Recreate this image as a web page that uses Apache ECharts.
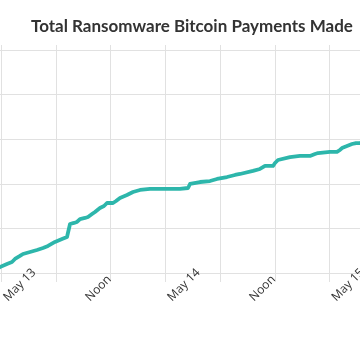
<!DOCTYPE html>
<html>
<head>
<meta charset="utf-8">
<script src="https://cdn.jsdelivr.net/npm/echarts@6/dist/echarts.min.js"></script>
<style>html,body{margin:0;padding:0;background:#fff}#c{width:360px;height:360px}</style>
</head>
<body>
<div id="c"></div>
<script>
// hours since May 13 00:00
var hours = [-0.63,-0.19,0.83,1.56,2.00,2.73,3.17,4.20,5.22,6.10,6.83,7.12,7.85,8.14,8.88,9.61,9.90,10.05,10.63,11.07,11.51,12.24,12.68,13.27,13.70,14.43,15.02,15.46,16.34,16.78,17.36,18.38,19.26,20.29,21.75,24.23,26.13,27.31,27.60,29.06,30.52,31.55,33.01,34.18,34.91,36.81,37.83,38.57,39.74,40.03,40.47,42.22,43.68,45.15,45.88,46.32,48.07,49.09,49.53,49.83,51.29,51.88,52.46,53.05];
// cumulative payments
var payments = [5.0,6.7,10.1,12.3,15.7,19.1,21.3,23.5,25.8,28.0,30.3,31.4,34.8,37.0,38.1,40.4,41.5,54.9,56.1,57.2,60.5,61.7,62.8,66.1,68.4,72.9,75.1,78.5,78.5,80.7,84.1,87.4,90.8,93.1,94.2,94.2,94.2,95.3,99.8,102.0,103.1,105.4,107.6,109.9,111.0,114.4,116.6,120.0,120.0,123.3,126.7,130.0,131.2,131.2,133.4,134.5,135.7,135.7,137.9,140.1,144.6,145.7,145.7,146.9];
var tickHours = [0, 12, 24, 36, 48];
var tickLabels = ['May 13', 'Noon', 'May 14', 'Noon', 'May 15'];
var title = 'Total Ransomware Bitcoin Payments Made';

var data = hours.map(function (h, i) { return [h, payments[i]]; });
var gridColor = '#e1e1e1';
var chart = echarts.init(document.getElementById('c'), null, {renderer: 'canvas'});
chart.setOption({
  animation: false,
  title: {
    text: title, left: 26, top: 13,
    textStyle: {fontFamily: 'Lato', fontSize: 17, fontWeight: 'bold', color: '#333'}
  },
  grid: {left: -162.8, right: -133.6, top: 45, bottom: 87, containLabel: false, outerBoundsMode: 'none'},
  xAxis: [{
    type: 'value', min: -24, max: 72, interval: 8, position: 'bottom',
    axisLine: {show: true, lineStyle: {color: gridColor, width: 1}},
    axisTick: {show: true, length: 9, lineStyle: {color: gridColor}},
    axisLabel: {show: false},
    splitLine: {show: true, lineStyle: {color: gridColor, width: 1}}
  }, {
    type: 'value', min: -24, max: 72, interval: 12, position: 'bottom', offset: 0,
    axisLine: {show: false}, axisTick: {show: false}, splitLine: {show: false},
    axisLabel: {
      show: true, rotate: 45, align: 'left', verticalAlign: 'top', margin: 22,
      fontFamily: 'Open Sans', fontSize: 12, color: '#333',
      formatter: function (v) {
        var i = tickHours.indexOf(v);
        return i >= 0 ? tickLabels[i] : '';
      }
    }
  }],
  yAxis: {
    type: 'value', min: 0, max: 255.6, interval: 50,
    axisLine: {show: false}, axisTick: {show: false}, axisLabel: {show: false},
    splitLine: {show: true, showMaxLine: false, lineStyle: {color: gridColor, width: 1}}
  },
  series: [{
    type: 'line', xAxisIndex: 0, data: data, showSymbol: false, symbol: 'none',
    lineStyle: {color: '#2db6ab', width: 3.8, join: 'round', cap: 'round'}
  }]
});
</script>
</body>
</html>
